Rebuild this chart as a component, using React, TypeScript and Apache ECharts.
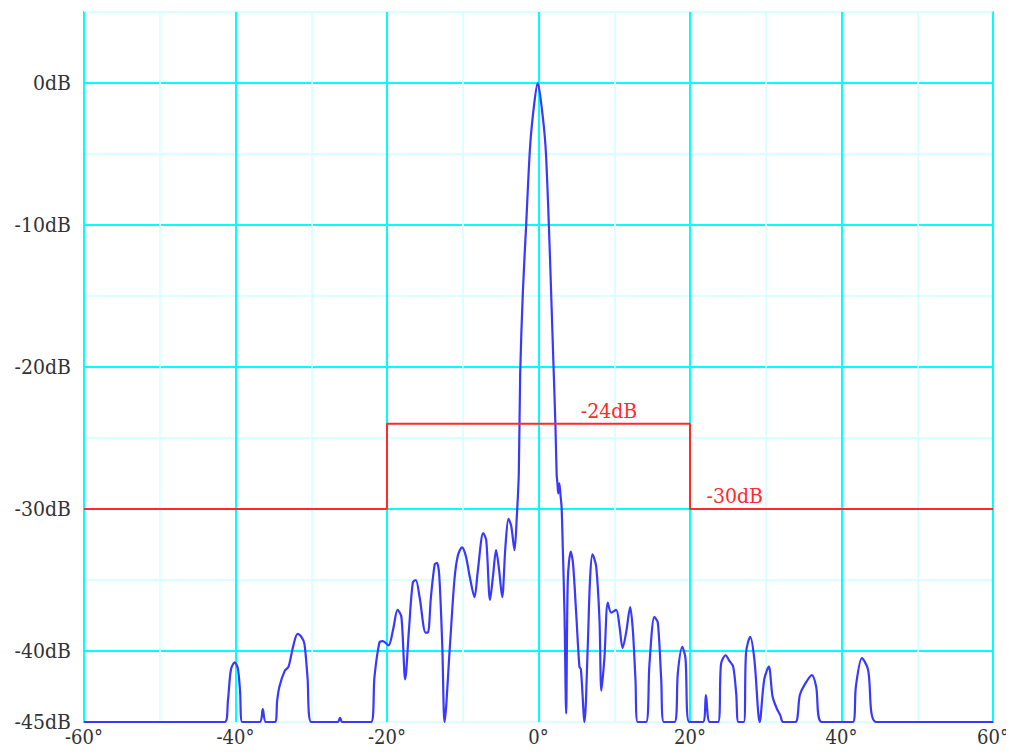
import React, { useEffect, useRef } from "react";
import * as echarts from "echarts";

const angles = [
  -60, -41.4, -41.0, -40.6, -40.1, -39.7, -39.4, -39.1, -36.8, -36.4, -36.0,
  -34.8, -34.5, -34.2, -33.5, -33.0, -32.4, -31.8, -31.3, -30.9, -30.5, -30.0,
  -26.5, -26.2, -25.9, -22.1, -21.65, -21.0, -20.55, -19.8, -19.2, -18.6, -18.1,
  -17.6, -17.1, -16.6, -16.2, -15.7, -14.9, -14.6, -14.2, -13.7, -13.4, -13.1,
  -12.7, -12.4, -11.7, -11.1, -10.65, -10.1, -9.6, -9.1, -8.45, -8.0, -7.3, -6.9,
  -6.4, -6.0, -5.6, -5.2, -4.8, -4.36, -3.96, -3.6, -3.17, -2.86, -2.6, -2.42,
  -2.07, -1.62, -1.1, -0.55, -0.1, 0.35, 0.92, 1.36, 1.67, 1.98, 2.24, 2.4, 2.5,
  2.6, 2.75, 2.9, 3.05, 3.2, 3.43, 3.65, 3.87, 4.25, 4.55, 4.97, 5.4, 5.6, 6.07,
  6.5, 6.8, 7.12, 7.6, 8.05, 8.3, 8.7, 9.15, 9.6, 10.25, 10.7, 11.1, 11.6, 12.1,
  12.45, 12.8, 13.1, 14.2, 14.65, 15.3, 15.75, 16.2, 16.55, 17.95, 18.4, 18.97,
  19.4, 19.9, 21.7, 22.1, 22.6, 23.7, 24.1, 24.7, 25.2, 25.7, 26.1, 26.4, 27.1,
  27.4, 27.95, 28.5, 29.2, 29.8, 30.4, 30.9, 31.5, 31.9, 32.3, 33.9, 34.5, 35.1,
  36.1, 36.65, 37.4, 41.5, 41.9, 42.7, 43.5, 44.6, 60,
];

const gainDb = [
  -45, -45, -43.5, -41.3, -40.8, -41.2, -42.8, -45, -45, -44.1, -45,
  -45, -43.5, -42.5, -41.4, -41.1, -39.7, -38.8, -39.0, -39.5, -41.8, -45,
  -45, -44.7, -45, -45, -41.8, -39.4, -39.3, -39.6, -38.5, -37.1, -37.6,
  -42.0, -38.5, -35.2, -35.0, -36.2, -38.7, -38.7, -36.2, -33.9, -33.8, -34.7,
  -39.7, -45, -39.7, -35.0, -33.3, -32.7, -33.3, -34.7, -36.2, -34.3, -31.7, -32.2,
  -36.4, -34.7, -32.9, -34.3, -36.2, -32.6, -30.7, -31.2, -32.9, -30.5, -27.5, -20.5,
  -14.8, -9.9, -4.4, -1.4, 0, -1.4, -4.4, -9.9, -14.8, -19.9, -24.2, -27.6, -28.2,
  -28.9, -28.2, -29.0, -29.9, -32.6, -37.3, -44.4, -35.0, -33.0, -33.8, -37.3, -41.1, -41.3, -45,
  -39.7, -35.0, -33.2, -34.0, -37.8, -42.8, -40.5, -36.6, -37.3, -37.1, -38.3, -39.8, -38.6, -36.9,
  -38.5, -42.0, -45, -45, -40.9, -37.6, -38.0, -42, -45, -45, -41.5, -39.7,
  -40.5, -45, -45, -43.1, -45, -45, -40.9, -40.3, -40.7, -41.1, -43, -45, -45,
  -40.1, -39.0, -40.6, -45, -42.0, -41.1, -43.2, -44.1, -44.5, -45, -45, -43.1, -42.4,
  -41.7, -42.5, -45, -45, -42.5, -40.5, -41.3, -45, -45,
];

const maskAngles = [-60, -20, -20, 20, 20, 60];
const maskDb = [-30, -30, -24, -24, -30, -30];

const maskLabels = [
  { text: "-24dB", angle: 9.3, db: -23.1 },
  { text: "-30dB", angle: 25.9, db: -29.1 },
];

const FONT = "'DejaVu Serif Condensed', 'DejaVu Serif', serif";

export default function App() {
  const ref = useRef<HTMLDivElement>(null);
  useEffect(() => {
    const chart = echarts.init(ref.current!, null, { renderer: "svg" });
    const beam = angles.map((a, i) => [a, gainDb[i]]);
    const mask = maskAngles.map((a, i) => [a, maskDb[i]]);
    chart.setOption({
      animation: false,
      backgroundColor: "#ffffff",
      grid: {
        left: 84,
        right: 21,
        top: 12,
        bottom: 34,
        show: true,
        borderColor: "#00ffff",
        borderWidth: 2,
      },
      xAxis: {
        type: "value",
        min: -60,
        max: 60,
        interval: 10,
        axisLine: { show: false },
        axisTick: { show: false },
        axisLabel: {
          formatter: (v: number) => (v % 20 === 0 ? v + "°" : ""),
          color: "#333",
          fontFamily: FONT,
          fontSize: 20,
          margin: 5,
          showMinLabel: true,
          showMaxLabel: true,
        },
        splitLine: {
          show: true,
          lineStyle: { color: ["#00ffff", "#dcffff"], width: 2 },
        },
      },
      yAxis: {
        type: "value",
        min: -45,
        max: 5,
        interval: 5,
        axisLine: { show: false },
        axisTick: { show: false },
        axisLabel: {
          formatter: (v: number) =>
            (v <= 0 && v % 10 === 0) || v === -45 ? v + "dB" : "",
          color: "#333",
          fontFamily: FONT,
          fontSize: 21,
          margin: 13,
        },
        splitLine: {
          show: true,
          lineStyle: { color: ["#dcffff", "#00ffff"], width: 2 },
        },
      },
      series: [
        {
          type: "line",
          data: beam,
          showSymbol: false,
          symbol: "none",
          smooth: 0.3,
          lineStyle: { color: "#3838ff", width: 2.2 },
          z: 3,
        },
        {
          type: "line",
          data: mask,
          showSymbol: false,
          symbol: "none",
          lineStyle: { color: "#ff2a2a", width: 2 },
          z: 4,
          markPoint: {
            symbol: "rect",
            symbolSize: 1,
            itemStyle: { color: "transparent" },
            label: {
              show: true,
              position: "inside",
              color: "#ff2a2a",
              fontFamily: FONT,
              fontSize: 21,
            },
            data: maskLabels.map((m) => ({
              coord: [m.angle, m.db],
              value: m.text,
              label: { formatter: m.text },
            })),
          },
        },
      ],
    });
    return () => chart.dispose();
  }, []);
  return <div ref={ref} style={{ width: 1014, height: 756, margin: -8 }} />;
}
